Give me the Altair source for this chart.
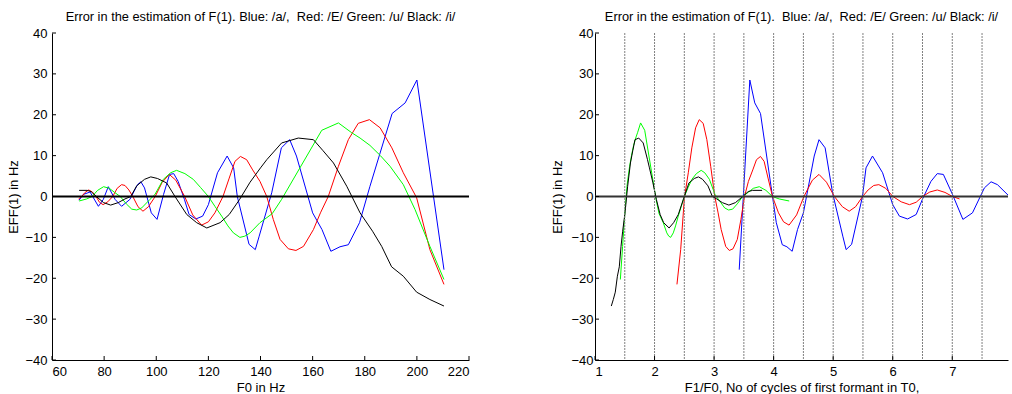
import altair as alt
import pandas as pd

# ---------------- data ----------------
vowels = ["a", "E", "u", "i"]
vowel_colors = ["#0000ff", "#ff0000", "#00ff00", "#000000"]
f1_hz = {"a": 720, "E": 500, "u": 300, "i": 268}   # first formant of each vowel

blue_f0 = [70.4, 72, 74.6, 77.8, 79.7, 81.6, 84.2, 86.7, 89.9, 92.8, 94.1, 95.5, 98.1,
           100.3, 102.8, 105.1, 106.7, 108.4, 110.8, 112.6, 115.2, 117.8, 120, 123.5,
           127.2, 129.7, 131.1, 135.6, 138, 139.5, 144.3, 148, 151.2, 153.8, 160, 163.6,
           167, 170.5, 173.7, 178, 182, 190.5, 195.5, 200, 210.4]
blue_v = [-0.9, 0.5, 1.1, -2.4, -0.7, 2.4, -0.7, -2.4, -0.7, 2.9, 3.6, 2.1, -4.0,
          -5.6, 0.5, 5.4, 5.6, 3.7, -0.7, -4.4, -5.5, -4.8, -2.0, 5.8,
          9.9, 7.0, 0.0, -11.7, -13.0, -9.7, 0.9, 11.9, 13.9, 9.9, -4.0, -8.1,
          -13.4, -12.3, -11.8, -6.4, 2.5, 20.3, 22.9, 28.5, -17.9]

red_f0 = [70.2, 71.4, 72.7, 74.1, 75.5, 76.9, 78.2, 79.6, 81.4, 83.3, 85, 86.7, 88,
          89.5, 91, 93, 94.9, 97, 99.6, 102.3, 105, 107.5, 110.9, 114, 117.4, 120,
          122.5, 125.6, 128, 130.2, 132.3, 134.7, 137, 139.8, 142.4, 144.9, 147.5,
          150.7, 153.6, 156.5, 160.3, 163, 166, 169.9, 173.7, 177.5, 181.8, 185.9,
          190.4, 194.8, 199.9, 205, 210.4]
red_v = [-0.6, 0.0, 1.0, 1.6, 1.1, 0.0, -1.4, -2.0, -1.3, 0.0, 2.0, 2.9, 2.7,
         1.6, 0.0, -2.5, -3.6, -2.5, 0.0, 3.5, 5.4, 4.0, 0.0, -4.5, -7.0, -6.2,
         -4.0, 0.0, 4.5, 8.6, 9.8, 9.0, 6.5, 3.7, 0.0, -5.6, -10.5,
         -12.8, -13.2, -12.2, -8.1, -4.0, 0.0, 7.4, 13.9, 17.9, 18.8, 16.8,
         11.9, 5.8, -0.3, -13.0, -21.5]

green_f0 = [70.4, 73.3, 75.4, 77.5, 79.8, 82, 84, 86.2, 88.5, 90.6, 92.5, 94.4, 97.6,
            99.5, 102.7, 105.5, 107.8, 111, 114.2, 117, 120, 122.5, 125.1, 127.5,
            129.6, 132.1, 134, 136, 139.8, 144.5, 148.1, 163.5, 169.9, 175, 178.2,
            182, 186, 189.7, 194.8, 199.3, 205, 210.4]
green_v = [-1.1, -0.6, 0.0, 1.5, 2.4, 2.0, 1.0, 0.0, -1.8, -3.1, -3.3, -2.8, -0.7,
           0.5, 4.2, 5.8, 6.4, 5.6, 4.2, 2.2, 0.0, -2.4, -4.8, -7.2,
           -8.9, -10.0, -9.7, -8.9, -6.4, -4.2, -0.7, 16.2, 18.0, 15.6, 14.3,
           12.5, 10.0, 7.4, 2.9, -3.2, -12.2, -20.3]

black_f0 = [70.4, 73.5, 75, 77, 79.8, 82.5, 85.4, 88, 90.2, 92.5, 95.5, 97.9, 100.5,
            104, 107.2, 111.7, 115.5, 119.4, 124.5, 128, 132, 136, 140, 142.4, 148.1,
            154.5, 160.3, 164, 168, 173.1, 178.2, 183, 186.5, 190.3, 194.8, 199.9,
            205, 210.4]
black_v = [1.5, 1.5, 1.2, 0.0, -1.5, -2.1, -1.5, -0.6, 0.0, 2.6, 4.2, 4.8, 4.4,
           3.3, 0.0, -4.4, -6.4, -7.7, -6.4, -4.4, -0.7, 3.5, 7.0, 9.0, 13.1,
           14.3, 13.9, 11.2, 8.2, 2.5, -4.0, -8.5, -12.2, -17.2, -19.5, -23.4,
           -25.2, -26.8]

half_cycles = [1.5, 2, 2.5, 3, 3.5, 4, 4.5, 5, 5.5, 6, 6.5, 7, 7.5]
y_ticks = [-40, -30, -20, -10, 0, 10, 20, 30, 40]
f0_ticks = [60, 80, 100, 120, 140, 160, 180, 200, 220]
ratio_ticks = [1, 2, 3, 4, 5, 6, 7]

title_left = "Error in the estimation of F(1). Blue: /a/,\u00a0 Red: /E/ Green: /u/ Black: /i/"
title_right = "Error in the estimation of F(1).\u00a0 Blue: /a/,\u00a0 Red: /E/ Green: /u/ Black: /i/"

# ---------------- tables ----------------
rows = []
for v, f0s, vals in [("a", blue_f0, blue_v), ("E", red_f0, red_v),
                     ("u", green_f0, green_v), ("i", black_f0, black_v)]:
    for f0, e in zip(f0s, vals):
        rows.append({"vowel": v, "F0": f0, "EFF": e, "ratio": f1_hz[v] / f0})
df = pd.DataFrame(rows)
zero_df = pd.DataFrame({"y": [0]})
vl_df = pd.DataFrame({"x": half_cycles})
yt_df = pd.DataFrame({"y": y_ticks})
ft_df = pd.DataFrame({"x": f0_ticks})
rt_df = pd.DataFrame({"x": ratio_ticks})

FONT = "Liberation Sans"
FS = 13
color_scale = alt.Scale(domain=vowels, range=vowel_colors)
y_scale = alt.Scale(domain=[-40, 40], nice=False)
f0_scale = alt.Scale(domain=[60, 220], nice=False)
ratio_scale = alt.Scale(domain=[1, 7.936], nice=False)

W, H = 417, 327
TK = 4  # inward tick length in px


def inner_ticks(x_scale, x_df):
    yt = alt.Chart(yt_df).mark_rule(color="#000000", strokeWidth=1).encode(
        y=alt.Y("y:Q", scale=y_scale), x=alt.value(0), x2=alt.value(TK))
    xt = alt.Chart(x_df).mark_rule(color="#000000", strokeWidth=1).encode(
        x=alt.X("x:Q", scale=x_scale), y=alt.value(H - TK), y2=alt.value(H))
    return [yt, xt]


# ---------------- left panel ----------------
left_lines = alt.Chart(df).mark_line(strokeWidth=1, clip=True).encode(
    x=alt.X("F0:Q", scale=f0_scale,
            axis=alt.Axis(values=f0_ticks, format="d", title="F0 in Hz")),
    y=alt.Y("EFF:Q", scale=y_scale,
            axis=alt.Axis(values=y_ticks, title="EFF(1) in Hz",
                          labelPadding=5, titlePadding=4)),
    color=alt.Color("vowel:N", scale=color_scale, legend=None),
)
left_zero = alt.Chart(zero_df).mark_rule(color="#000000", strokeWidth=2).encode(
    y=alt.Y("y:Q", scale=y_scale))
left = alt.layer(left_lines, left_zero, *inner_ticks(f0_scale, ft_df)).properties(
    width=W, height=H, title=title_left)

# ---------------- right panel ----------------
right_lines = alt.Chart(df).mark_line(strokeWidth=1, clip=True).encode(
    x=alt.X("ratio:Q", scale=ratio_scale,
            axis=alt.Axis(values=ratio_ticks, format="d",
                          title="F1/F0, No of cycles of first formant in T0,")),
    y=alt.Y("EFF:Q", scale=y_scale,
            axis=alt.Axis(values=y_ticks, title="EFF(1) in Hz",
                          labelPadding=2, titlePadding=6)),
    color=alt.Color("vowel:N", scale=color_scale, legend=None),
)
right_vl = alt.Chart(vl_df).mark_rule(color="#808080", strokeWidth=1,
                                      strokeDash=[2, 1]).encode(
    x=alt.X("x:Q", scale=ratio_scale))
right_zero = alt.Chart(zero_df).mark_rule(color="#333333", strokeWidth=2).encode(
    y=alt.Y("y:Q", scale=y_scale))
right = alt.layer(right_lines, right_vl, right_zero,
                  *inner_ticks(ratio_scale, rt_df)).properties(
    width=413, height=H, title=title_right)

chart = alt.hconcat(left, right, spacing=81).properties(
    padding={"left": 7, "top": 11, "right": 0, "bottom": 0},
    background="white",
).configure_view(stroke=None).configure_axis(
    labelFont=FONT, titleFont=FONT, labelFontSize=FS, titleFontSize=FS,
    titleFontWeight="normal", labelColor="#000000", titleColor="#000000",
    domainColor="#000000", domainWidth=1, ticks=False, grid=False,
).configure_axisX(
    labelPadding=5, titlePadding=3
).configure_title(font=FONT, fontSize=12.8, fontWeight="normal", color="#000000",
                  anchor="middle", offset=3)

chart.save("out.html", embed_options={"renderer": "svg", "actions": False})
